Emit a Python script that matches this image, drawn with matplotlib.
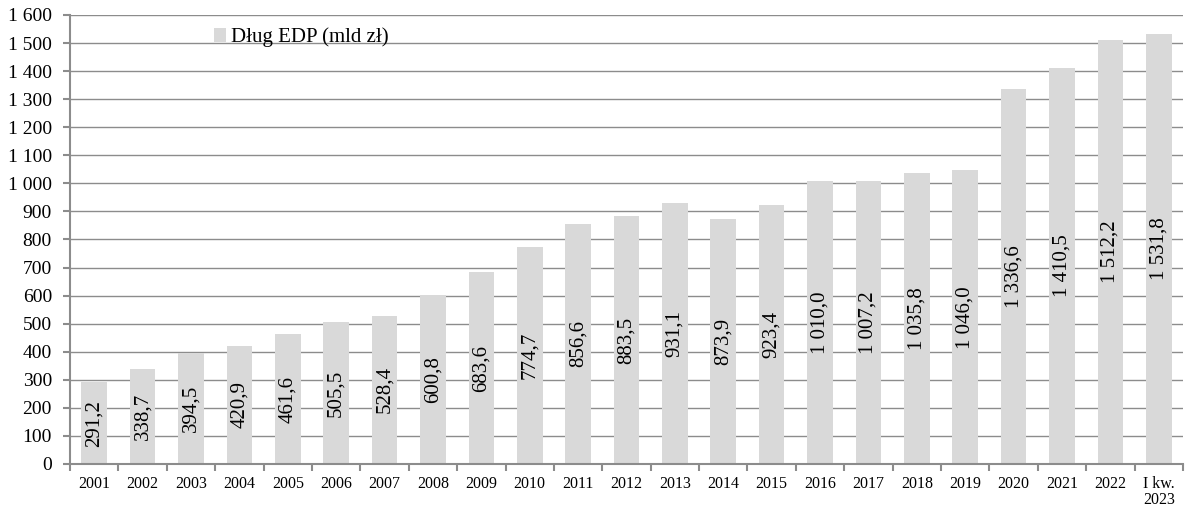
import matplotlib.pyplot as plt
import numpy as np

plt.rcParams['font.family'] = ['Liberation Serif', 'DejaVu Serif']

years = ['2001', '2002', '2003', '2004', '2005', '2006', '2007', '2008',
         '2009', '2010', '2011', '2012', '2013', '2014', '2015', '2016',
         '2017', '2018', '2019', '2020', '2021', '2022', 'I kw.\n2023']
debt = [291.2, 338.7, 394.5, 420.9, 461.6, 505.5, 528.4, 600.8,
        683.6, 774.7, 856.6, 883.5, 931.1, 873.9, 923.4, 1010.0,
        1007.2, 1035.8, 1046.0, 1336.6, 1410.5, 1512.2, 1531.8]
y_ticks = list(range(0, 1700, 100))


def pl_fmt(v, dec=1):
    s = f"{v:,.{dec}f}"
    return s.replace(',', ' ').replace('.', ',')


fig = plt.figure(figsize=(12.01, 5.13), dpi=100)
ax = fig.add_axes([70 / 1201, 49 / 513, 1113 / 1201, 449 / 513])

x = np.arange(len(years))
bars = ax.bar(x, debt, width=0.53, color='#d9d9d9', zorder=2,
              label='Dług EDP (mld zł)')

for xi, v in zip(x, debt):
    ax.text(xi, v / 2, pl_fmt(v), rotation=90, ha='center', va='center',
            fontsize=15, color='black', zorder=3)

ax.set_xlim(-0.5, len(years) - 0.5)
ax.set_ylim(0, 1600)
ax.set_yticks(y_ticks)
ax.set_yticklabels([pl_fmt(t, 0) for t in y_ticks], fontsize=14)
ax.yaxis.grid(True, color='#8c8c8c', linewidth=1, zorder=0)
ax.set_axisbelow(True)

ax.set_xticks(x)
ax.set_xticklabels(years, fontsize=11.5, linespacing=1.0)
ax.tick_params(axis='x', which='major', length=0, pad=9)
ax.set_xticks(np.arange(-0.5, len(years), 1), minor=True)
ax.tick_params(axis='x', which='minor', length=5, color='#8c8c8c', width=1.5)
ax.tick_params(axis='y', length=5, color='#8c8c8c', width=1.5, pad=8)

for s in ['top', 'right']:
    ax.spines[s].set_visible(False)
for s in ['left', 'bottom']:
    ax.spines[s].set_color('#8c8c8c')
    ax.spines[s].set_linewidth(1.5)

ax.legend(loc='upper left', bbox_to_anchor=(0.118, 1.0), frameon=False,
          fontsize=15, handlelength=0.6, handleheight=0.6, handletextpad=0.2,
          borderaxespad=0.2)

fig.savefig('out.png', dpi=100)
